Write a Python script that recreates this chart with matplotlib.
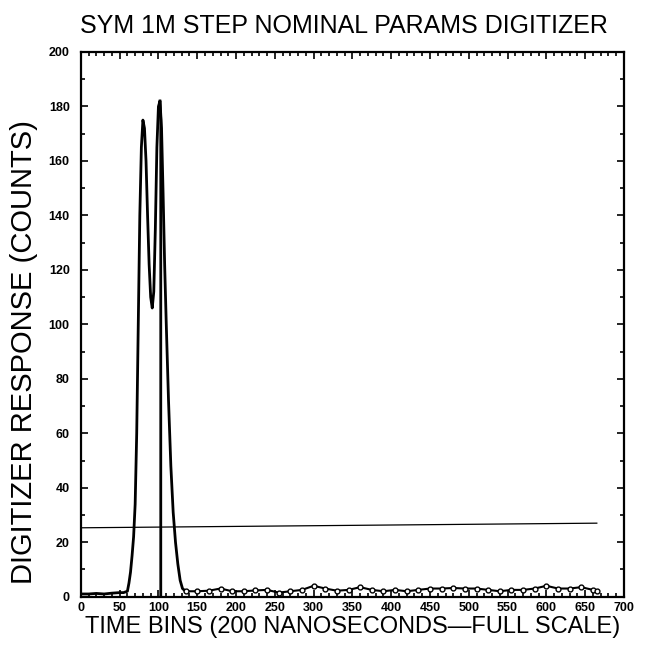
import numpy as np
import matplotlib
matplotlib.use("Agg")
import matplotlib.pyplot as plt
from matplotlib.ticker import MultipleLocator

plt.rcParams['font.family'] = ['Liberation Sans', 'DejaVu Sans']

# pulse (time bin, counts)
pulse_x = [0, 10, 20, 30, 40, 50, 55, 60, 62, 64, 66, 68, 70, 72, 74, 76, 78, 80,
           82, 84, 86, 88, 90, 92, 94, 96, 98, 100, 102, 104, 106, 108, 110, 113,
           116, 119, 122, 125, 128, 131, 135]
pulse_y = [1, 1, 1.2, 1, 1.3, 1.5, 1.5, 2, 5, 9, 15, 22, 34, 60, 100, 140, 165, 175,
           172, 160, 140, 122, 110, 106, 112, 135, 165, 180, 182, 172, 148, 122, 101, 72,
           48, 31, 20, 12, 6, 3, 2]

cut_x = [102, 103, 103]
cut_y = [182, 175, 0]

# baseline after the pulse
base_x = [135, 150, 165, 180, 195, 210, 225, 240, 255, 270, 285, 300, 315, 330, 345,
          360, 375, 390, 405, 420, 435, 450, 465, 480, 495, 510, 525, 540, 555, 570,
          585, 600, 615, 630, 645, 660, 665]
base_y = [2, 2, 2.2, 3, 2, 2, 2.3, 2.5, 1.5, 2, 2.5, 4, 3, 2.2, 2.5, 3.5, 2.5, 2,
          2.5, 2, 2.5, 3, 3, 3.2, 3, 3, 2.5, 2, 2.5, 2.5, 3, 4, 3, 3, 3.5, 2.5, 2]

# threshold line
thr_x = [0, 665]
thr_y = [25.3, 27]

fig = plt.figure(figsize=(6.52, 6.50), dpi=100)
ax = fig.add_axes([0.124, 0.082, 0.833, 0.838])

ax.plot(pulse_x, pulse_y, color='black', lw=2.0)
ax.plot(cut_x, cut_y, color='black', lw=2.0)
ax.plot(base_x, base_y, color='black', lw=1.5, marker='o', ms=3.5,
        mfc='white', mec='black', mew=1.0)
ax.plot(thr_x, thr_y, color='black', lw=0.9)

ax.set_xlim(0, 700)
ax.set_ylim(0, 200)
ax.xaxis.set_major_locator(MultipleLocator(50))
ax.xaxis.set_minor_locator(MultipleLocator(10))
ax.yaxis.set_major_locator(MultipleLocator(20))
ax.yaxis.set_minor_locator(MultipleLocator(10))
ax.tick_params(which='both', direction='in', top=True, right=True, width=1.2)
ax.tick_params(which='major', length=5, labelsize=9)
ax.tick_params(which='minor', length=3)
ax.tick_params(axis='y', pad=8)
for lab in ax.get_xticklabels() + ax.get_yticklabels():
    lab.set_fontweight('bold')
for s in ax.spines.values():
    s.set_linewidth(1.6)

ax.set_title('SYM 1M STEP NOMINAL PARAMS DIGITIZER', fontsize=18, pad=14, x=0.485)
ax.set_xlabel('TIME BINS (200 NANOSECONDS\u2014FULL SCALE)', fontsize=17, labelpad=2)
ax.set_ylabel('DIGITIZER RESPONSE (COUNTS)', fontsize=21)
ax.yaxis.set_label_coords(-0.078, 0.45)

fig.savefig('out.png', dpi=100)
